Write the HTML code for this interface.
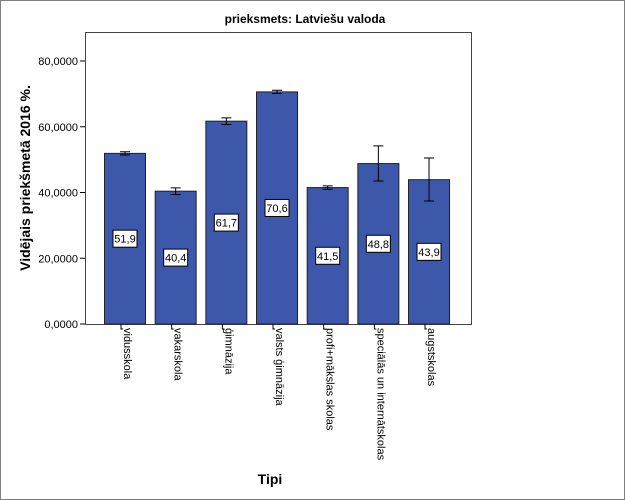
<!DOCTYPE html>
<html><head><meta charset="utf-8"><style>
body{margin:0;background:#fff}
svg{display:block;font-family:"Liberation Sans",sans-serif}
</style></head><body>
<svg id="c" width="625" height="500" xmlns="http://www.w3.org/2000/svg">
<rect x="0.5" y="0.5" width="624" height="499" fill="#fff" stroke="#7f7f7f"/>
<text x="305" y="23" font-size="12" font-weight="bold" text-anchor="middle">prieksmets: Latviešu valoda</text>
<rect x="85.5" y="32.5" width="386" height="292" fill="#fff" stroke="#444"/>
<text transform="translate(30,178) rotate(-90)" font-size="14" font-weight="bold" text-anchor="middle">Vidējais priekšmetā 2016 %.</text>
<text x="270" y="484" font-size="14" font-weight="bold" text-anchor="middle">Tipi</text>
<g id="g"></g>
</svg>
<script>
const categories=["vidusskola","vakarskola","ģimnāzija","valsts ģimnāzija","profi+mākslas skolas","speciālās un internātskolas","augstskolas"];
const means=[51.9,40.4,61.7,70.6,41.5,48.8,43.9];
const errLow=[51.4,39.4,60.7,70.1,41.0,43.5,37.4];
const errHigh=[52.4,41.4,62.7,71.1,42.0,54.2,50.5];
const yTicks=[0,20,40,60,80];
const yTickLabels=["0,0000","20,0000","40,0000","60,0000","80,0000"];
const NS="http://www.w3.org/2000/svg",g=document.getElementById("g");
const y=v=>324-v*263/80;
const xs=i=>104+i*50.67;
function mk(t,a){const e=document.createElementNS(NS,t);for(const k in a)e.setAttribute(k,a[k]);g.appendChild(e);return e;}
yTicks.forEach((v,i)=>{
 const l=mk("line",{x1:80,x2:85,y1:y(v),y2:y(v),stroke:"#000"});
 
 
 const t=mk("text",{x:78,y:y(v)+4,"font-size":11,"text-anchor":"end"});t.textContent=yTickLabels[i];
 
 
});
categories.forEach((c,i)=>{
 const x0=xs(i),cx=x0+21;
 const b=mk("rect",{x:x0+0.5,y:y(means[i]),width:41,height:324-y(means[i]),fill:"#3d58aa",stroke:"#222","stroke-width":1});
 
 
 const e=mk("path",{d:`M${cx},${y(errLow[i])}V${y(errHigh[i])}M${cx-5},${y(errLow[i])}H${cx+5}M${cx-5},${y(errHigh[i])}H${cx+5}`,stroke:"#000",fill:"none"});
 
 
 const lbl=means[i].toFixed(1).replace(".",",");
 const by=(324+y(means[i]))/2;
 const r=mk("rect",{x:cx-12,y:by-8.5,width:24,height:17,fill:"#fff",stroke:"#000"});
 
 
 const t=mk("text",{x:cx,y:by+4,"font-size":11,"text-anchor":"middle"});t.textContent=lbl;
 
 
 const tk=mk("path",{d:`M${cx-4},324V329H${cx-2}`,stroke:"#000",fill:"none"});
 
 
 const xt=mk("text",{transform:`translate(${cx-1},328) rotate(90)`,"font-size":11});xt.textContent=c;
 
 
});
</script>
</body></html>
